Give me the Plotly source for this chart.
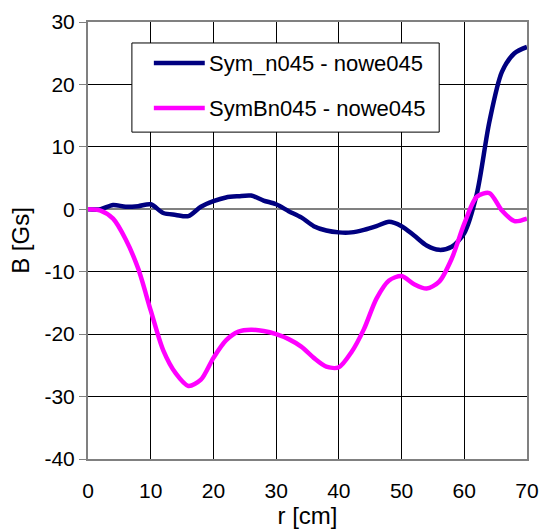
import plotly.graph_objects as go

# radial position [cm]
r_cm = list(range(0, 72, 2))

# field difference Sym_n045 - nowe045 [Gs]
sym_n045 = [0.0, 0.0, 0.7, 0.4, 0.5, 0.8, -0.6, -0.9, -1.1, 0.4,
            1.3, 1.9, 2.1, 2.2, 1.4, 0.8, -0.3, -1.3, -2.7, -3.4,
            -3.7, -3.7, -3.3, -2.7, -2.0, -2.7, -4.2, -5.8, -6.5, -6.0,
            -3.8, 2.5, 14.0, 22.0, 25.0, 26.0]

# field difference SymBn045 - nowe045 [Gs]
symbn045 = [0.0, -0.2, -1.5, -4.8, -9.5, -16.2, -22.6, -26.3, -28.3, -27.3,
            -23.8, -21.0, -19.6, -19.3, -19.5, -20.0, -20.8, -22.0, -23.8, -25.2,
            -25.3, -22.9, -19.2, -14.3, -11.4, -10.7, -12.0, -12.7, -11.6, -7.9,
            -2.3, 2.0, 2.6, -0.2, -1.9, -1.5]

series_names = ["Sym_n045 - nowe045", "SymBn045 - nowe045"]
series_colors = ["#000080", "#FF00FF"]

x_ticks = [0, 10, 20, 30, 40, 50, 60, 70]
y_ticks = [-40, -30, -20, -10, 0, 10, 20, 30]

FONT = "Liberation Sans, Arial, sans-serif"

fig = go.Figure()
for ys, name, color in zip([sym_n045, symbn045], series_names, series_colors):
    fig.add_trace(go.Scatter(
        x=r_cm, y=ys, mode="lines", name=name, showlegend=False,
        line=dict(color=color, width=4.5, shape="spline", smoothing=0.8),
    ))

# boxed key in the upper-left part of the plot area
key_box = dict(x0=0.100, x1=0.800, y0=0.748, y1=0.952)
key_rows_y = [0.906, 0.803]
fig.add_shape(type="rect", xref="paper", yref="paper", **key_box,
              line=dict(color="black", width=1), fillcolor="white", layer="above")
for yk, name, color in zip(key_rows_y, series_names, series_colors):
    fig.add_shape(type="line", xref="paper", yref="paper",
                  x0=0.150, x1=0.266, y0=yk, y1=yk,
                  line=dict(color=color, width=4.5), layer="above")
    fig.add_annotation(x=0.270, y=yk, xref="paper", yref="paper",
                       text=name, showarrow=False, xanchor="left", yanchor="middle",
                       font=dict(family=FONT, size=22, color="black"))

fig.update_layout(
    width=542, height=531,
    margin=dict(l=88, r=15, t=22, b=72),
    paper_bgcolor="white", plot_bgcolor="white",
    font=dict(family=FONT, size=21, color="black"),
    showlegend=False,
    xaxis=dict(
        range=[0, 70], tickvals=x_ticks, ticktext=[str(v) for v in x_ticks],
        showgrid=True, gridcolor="black", gridwidth=1,
        showline=True, linecolor="#808080", linewidth=2, mirror=True,
        ticks="", zeroline=False, automargin=False,
        ticklabelstandoff=12,
        title=dict(text="r [cm]", standoff=4, font=dict(size=24)),
        tickfont=dict(size=21),
    ),
    yaxis=dict(
        range=[-40, 30], tickvals=y_ticks, ticktext=[str(v) for v in y_ticks],
        showgrid=True, gridcolor="black", gridwidth=1,
        showline=True, linecolor="#808080", linewidth=2, mirror=True,
        ticks="outside", ticklen=7, tickcolor="#808080", tickwidth=1,
        zeroline=True, zerolinecolor="#808080", zerolinewidth=2,
        automargin=False,
        title=dict(text="B [Gs]", standoff=8, font=dict(size=24)),
        tickfont=dict(size=21),
    ),
)

fig.write_html("out.html")
